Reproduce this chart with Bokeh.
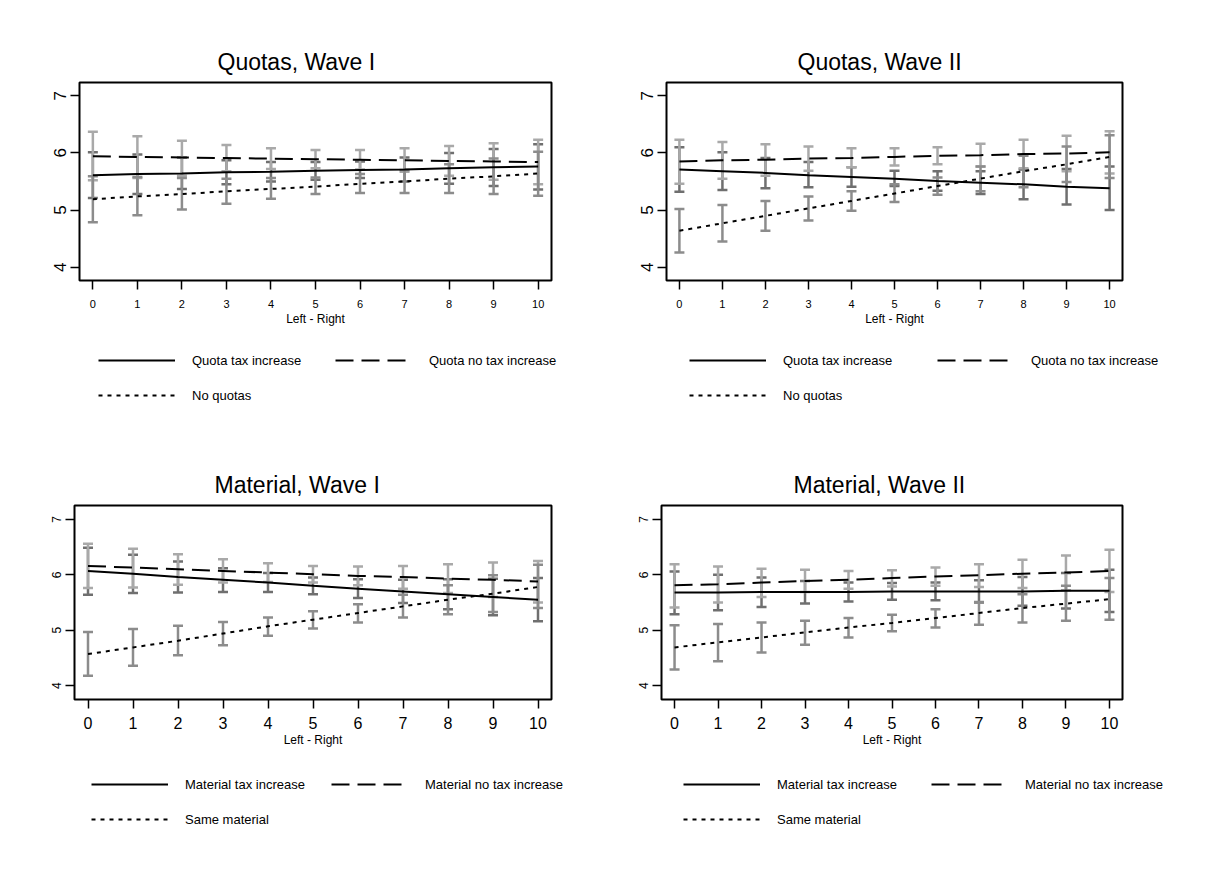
from bokeh.plotting import figure
from bokeh.models import (Whisker, TeeHead, ColumnDataSource, Legend, LegendItem,
                          FixedTicker, Range1d)
from bokeh.layouts import column, row
from bokeh.embed import file_html
from bokeh.resources import INLINE

FONT = "Liberation Sans"

# ---------------- data ----------------
x_vals = [0, 1, 2, 3, 4, 5, 6, 7, 8, 9, 10]
x_ticks = [0, 1, 2, 3, 4, 5, 6, 7, 8, 9, 10]
y_ticks = [4, 5, 6, 7]
x_axis_label = "Left - Right"

titles = ["Quotas, Wave I", "Quotas, Wave II", "Material, Wave I", "Material, Wave II"]
quota_labels = ["Quota tax increase", "Quota no tax increase", "No quotas"]
material_labels = ["Material tax increase", "Material no tax increase", "Same material"]

# Quotas, Wave I
q1_tax_mean = [5.61, 5.63, 5.64, 5.66, 5.67, 5.69, 5.70, 5.71, 5.73, 5.75, 5.76]
q1_tax_lo   = [5.21, 5.28, 5.37, 5.45, 5.50, 5.53, 5.56, 5.50, 5.46, 5.42, 5.36]
q1_tax_hi   = [6.01, 5.97, 5.92, 5.87, 5.84, 5.84, 5.85, 5.92, 6.00, 6.07, 6.15]
q1_notax_mean = [5.94, 5.93, 5.92, 5.91, 5.90, 5.89, 5.88, 5.87, 5.86, 5.85, 5.84]
q1_notax_lo   = [5.52, 5.56, 5.60, 5.68, 5.72, 5.73, 5.71, 5.67, 5.60, 5.53, 5.45]
q1_notax_hi   = [6.37, 6.29, 6.21, 6.14, 6.08, 6.05, 6.05, 6.08, 6.12, 6.17, 6.23]
q1_none_mean = [5.19, 5.24, 5.28, 5.33, 5.37, 5.41, 5.46, 5.50, 5.55, 5.59, 5.64]
q1_none_lo   = [4.79, 4.91, 5.01, 5.11, 5.20, 5.28, 5.30, 5.30, 5.30, 5.28, 5.25]
q1_none_hi   = [5.59, 5.58, 5.56, 5.55, 5.56, 5.57, 5.63, 5.70, 5.80, 5.90, 6.02]

# Quotas, Wave II
q2_tax_mean = [5.71, 5.68, 5.65, 5.61, 5.58, 5.55, 5.51, 5.48, 5.45, 5.41, 5.38]
q2_tax_lo   = [5.32, 5.35, 5.38, 5.40, 5.41, 5.42, 5.34, 5.28, 5.19, 5.10, 5.00]
q2_tax_hi   = [6.10, 6.01, 5.91, 5.84, 5.75, 5.69, 5.68, 5.68, 5.71, 5.72, 5.76]
q2_notax_mean = [5.85, 5.87, 5.88, 5.90, 5.91, 5.93, 5.95, 5.96, 5.98, 5.99, 6.01]
q2_notax_lo   = [5.46, 5.55, 5.60, 5.69, 5.75, 5.78, 5.80, 5.76, 5.73, 5.68, 5.64]
q2_notax_hi   = [6.23, 6.19, 6.15, 6.11, 6.08, 6.08, 6.10, 6.16, 6.23, 6.30, 6.38]
q2_none_mean = [4.64, 4.77, 4.90, 5.03, 5.16, 5.29, 5.42, 5.55, 5.68, 5.80, 5.93]
q2_none_lo   = [4.26, 4.45, 4.64, 4.82, 4.99, 5.14, 5.27, 5.33, 5.40, 5.49, 5.56]
q2_none_hi   = [5.02, 5.09, 5.16, 5.24, 5.33, 5.45, 5.57, 5.76, 5.95, 6.11, 6.31]

# Material, Wave I
m1_tax_mean = [6.07, 6.02, 5.96, 5.91, 5.86, 5.80, 5.75, 5.70, 5.65, 5.60, 5.55]
m1_tax_lo   = [5.64, 5.67, 5.68, 5.69, 5.69, 5.65, 5.58, 5.49, 5.38, 5.27, 5.16]
m1_tax_hi   = [6.49, 6.36, 6.24, 6.12, 6.03, 5.95, 5.92, 5.91, 5.92, 5.93, 5.94]
m1_notax_mean = [6.16, 6.13, 6.10, 6.07, 6.04, 6.01, 5.98, 5.96, 5.93, 5.91, 5.88]
m1_notax_lo   = [5.76, 5.77, 5.82, 5.86, 5.87, 5.86, 5.81, 5.75, 5.67, 5.60, 5.50]
m1_notax_hi   = [6.56, 6.47, 6.37, 6.28, 6.21, 6.16, 6.15, 6.16, 6.19, 6.22, 6.25]
m1_same_mean = [4.57, 4.69, 4.81, 4.94, 5.07, 5.19, 5.31, 5.43, 5.55, 5.66, 5.78]
m1_same_lo   = [4.18, 4.36, 4.55, 4.73, 4.90, 5.03, 5.14, 5.23, 5.29, 5.33, 5.40]
m1_same_hi   = [4.97, 5.02, 5.08, 5.15, 5.23, 5.34, 5.47, 5.64, 5.81, 5.99, 6.18]

# Material, Wave II
m2_tax_mean = [5.68, 5.68, 5.69, 5.69, 5.69, 5.70, 5.70, 5.70, 5.70, 5.71, 5.71]
m2_tax_lo   = [5.29, 5.36, 5.42, 5.48, 5.52, 5.55, 5.54, 5.50, 5.44, 5.39, 5.33]
m2_tax_hi   = [6.06, 6.00, 5.95, 5.89, 5.86, 5.85, 5.86, 5.90, 5.96, 6.03, 6.09]
m2_notax_mean = [5.81, 5.83, 5.86, 5.89, 5.91, 5.94, 5.97, 5.99, 6.02, 6.04, 6.07]
m2_notax_lo   = [5.41, 5.50, 5.60, 5.69, 5.75, 5.79, 5.80, 5.78, 5.76, 5.72, 5.69]
m2_notax_hi   = [6.19, 6.15, 6.11, 6.09, 6.07, 6.08, 6.13, 6.19, 6.27, 6.35, 6.45]
m2_same_mean = [4.69, 4.78, 4.87, 4.96, 5.05, 5.13, 5.22, 5.31, 5.40, 5.48, 5.56]
m2_same_lo   = [4.29, 4.44, 4.60, 4.74, 4.87, 4.98, 5.05, 5.10, 5.14, 5.17, 5.19]
m2_same_hi   = [5.09, 5.11, 5.14, 5.17, 5.22, 5.28, 5.38, 5.51, 5.65, 5.80, 5.94]

# ---------------- styles / layout ----------------
LINE_DASH = ["solid", "18 8", "4 5"]
BAR_COLORS = ["#6f6f6f", "#a9a9a9", "#8c8c8c"]

panels = [
    dict(title=titles[0], labels=quota_labels,
         series=[(q1_tax_mean, q1_tax_lo, q1_tax_hi),
                 (q1_notax_mean, q1_notax_lo, q1_notax_hi),
                 (q1_none_mean, q1_none_lo, q1_none_hi)],
         w=608, h=330, bl=79, br=57, bt=82, bb=50, ylo=3.77, yhi=7.23,
         ysize="17px", xsize="11px", xstand=10, toff=138,
         lh=118, lbl=98, lbt=20, lw=128),
    dict(title=titles[1], labels=quota_labels,
         series=[(q2_tax_mean, q2_tax_lo, q2_tax_hi),
                 (q2_notax_mean, q2_notax_lo, q2_notax_hi),
                 (q2_none_mean, q2_none_lo, q2_none_hi)],
         w=600, h=330, bl=58, br=86, bt=82, bb=50, ylo=3.77, yhi=7.23,
         ysize="17px", xsize="11px", xstand=10, toff=131,
         lh=118, lbl=81, lbt=20, lw=139),
    dict(title=titles[2], labels=material_labels,
         series=[(m1_tax_mean, m1_tax_lo, m1_tax_hi),
                 (m1_notax_mean, m1_notax_lo, m1_notax_hi),
                 (m1_same_mean, m1_same_lo, m1_same_hi)],
         w=608, h=303, bl=74, br=57, bt=57, bb=52, ylo=3.75, yhi=7.25,
         ysize="12px", xsize="16px", xstand=8, toff=140,
         lh=110, lbl=91, lbt=23, lw=131),
    dict(title=titles[3], labels=material_labels,
         series=[(m2_tax_mean, m2_tax_lo, m2_tax_hi),
                 (m2_notax_mean, m2_notax_lo, m2_notax_hi),
                 (m2_same_mean, m2_same_lo, m2_same_hi)],
         w=600, h=303, bl=53, br=86, bt=57, bb=52, ylo=3.75, yhi=7.25,
         ysize="12px", xsize="16px", xstand=8, toff=132,
         lh=110, lbl=75, lbt=23, lw=139),
]


def make_panel(cfg):
    p = figure(width=cfg["w"], height=cfg["h"],
               min_border_left=cfg["bl"], min_border_right=cfg["br"],
               min_border_top=cfg["bt"], min_border_bottom=cfg["bb"],
               x_range=Range1d(-0.3, 10.3), y_range=Range1d(cfg["ylo"], cfg["yhi"]),
               output_backend="svg", toolbar_location=None,
               background_fill_color="white", border_fill_color="white")
    p.title.text = cfg["title"]
    p.title.text_font = FONT
    p.title.text_font_size = "23px"
    p.title.text_font_style = "normal"
    p.title.text_color = "black"
    p.title.align = "left"
    p.title.offset = cfg["toff"]
    p.title.standoff = 15

    p.outline_line_color = "black"
    p.outline_line_width = 2
    p.xgrid.visible = False
    p.ygrid.visible = False

    p.xaxis.ticker = FixedTicker(ticks=x_ticks)
    p.yaxis.ticker = FixedTicker(ticks=y_ticks)
    for ax in (p.xaxis[0], p.yaxis[0]):
        ax.axis_line_color = None
        ax.major_tick_line_color = "black"
        ax.major_tick_line_width = 1.5
        ax.major_tick_out = 9
        ax.major_tick_in = 0
        ax.minor_tick_line_color = None
        ax.major_label_text_font = FONT
        ax.major_label_text_color = "black"
    p.yaxis.major_label_orientation = "vertical"
    p.yaxis.major_label_text_font_size = cfg["ysize"]
    p.yaxis.major_label_standoff = 4
    p.xaxis.major_label_text_font_size = cfg["xsize"]
    p.xaxis.major_label_standoff = cfg["xstand"]
    p.xaxis.axis_label = x_axis_label
    p.xaxis.axis_label_text_font = FONT
    p.xaxis.axis_label_text_font_size = "12px"
    p.xaxis.axis_label_text_font_style = "normal"
    p.xaxis.axis_label_text_color = "black"
    p.xaxis.axis_label_standoff = 1

    for (mean, lo, hi), col in zip(cfg["series"], BAR_COLORS):
        src = ColumnDataSource(dict(x=x_vals, lo=lo, hi=hi))
        w = Whisker(base="x", lower="lo", upper="hi", source=src,
                    line_color=col, line_width=2.5,
                    upper_head=TeeHead(size=10, line_color=col, line_width=2.5),
                    lower_head=TeeHead(size=10, line_color=col, line_width=2.5))
        p.add_layout(w)

    for (mean, lo, hi), dash in zip(cfg["series"], LINE_DASH):
        p.line(x_vals, mean, line_color="black", line_width=2, line_dash=dash)
    return p


def make_legend_fig(cfg):
    # legend strip below each panel; its series lines lie outside the (empty) view,
    # only the legend swatches and labels are visible
    lf = figure(width=cfg["w"], height=cfg["lh"],
                x_range=Range1d(-0.3, 10.3), y_range=Range1d(20, 21),
                x_axis_location=None, y_axis_location=None,
                min_border_left=cfg["lbl"], min_border_top=cfg["lbt"],
                min_border_right=0, min_border_bottom=0,
                output_backend="svg", toolbar_location=None,
                outline_line_color=None,
                background_fill_color="white", border_fill_color="white")
    lf.xgrid.visible = False
    lf.ygrid.visible = False
    items = []
    for (mean, lo, hi), dash, lab in zip(cfg["series"], LINE_DASH, cfg["labels"]):
        r = lf.line(x_vals, mean, line_color="black", line_width=2, line_dash=dash)
        items.append(LegendItem(label=lab, renderers=[r]))
    leg = Legend(items=items, location="top_left", orientation="horizontal", ncols=2,
                 glyph_width=77, glyph_height=20, label_height=20,
                 label_width=cfg["lw"], label_standoff=17, spacing=15,
                 margin=0, padding=0,
                 border_line_color=None, background_fill_alpha=0,
                 label_text_font=FONT, label_text_font_size="13px",
                 label_text_color="black")
    lf.add_layout(leg)
    return lf


figs = [make_panel(c) for c in panels]
legs = [make_legend_fig(c) for c in panels]
layout = column(row(figs[0], figs[1]), row(legs[0], legs[1]),
                row(figs[2], figs[3]), row(legs[2], legs[3]))

open("out.html", "w").write(file_html(layout, INLINE))
